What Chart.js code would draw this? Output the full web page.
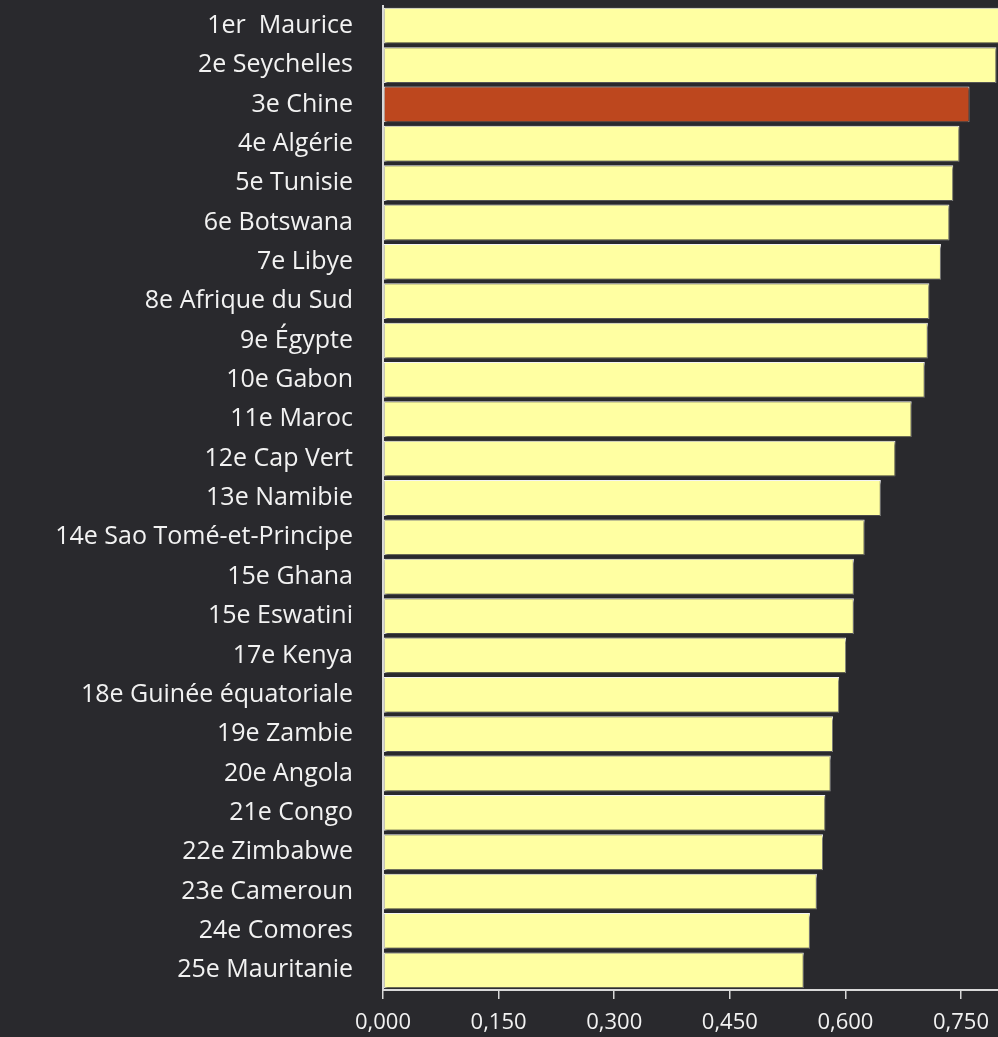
<!DOCTYPE html>
<html>
<head>
<meta charset="utf-8">
<script src="https://cdn.jsdelivr.net/npm/chart.js@4/dist/chart.umd.min.js"></script>
<style>
html,body{margin:0;padding:0;background:#29292d;}
#wrap{width:998px;height:1037px;position:relative;background:#29292d;overflow:hidden;}
</style>
</head>
<body>
<div id="wrap"><canvas id="c" width="998" height="1037"></canvas></div>
<script>
const categories = ["1er  Maurice","2e Seychelles","3e Chine","4e Algérie","5e Tunisie","6e Botswana","7e Libye","8e Afrique du Sud","9e Égypte","10e Gabon","11e Maroc","12e Cap Vert","13e Namibie","14e Sao Tomé-et-Principe","15e Ghana","15e Eswatini","17e Kenya","18e Guinée équatoriale","19e Zambie","20e Angola","21e Congo","22e Zimbabwe","23e Cameroun","24e Comores","25e Mauritanie"];
const values = [0.804,0.796,0.761,0.748,0.740,0.735,0.724,0.709,0.707,0.703,0.686,0.665,0.646,0.625,0.611,0.611,0.601,0.592,0.584,0.581,0.574,0.571,0.563,0.554,0.546];
const highlighted = ["3e Chine"];
const xTicks = [0, 0.15, 0.30, 0.45, 0.60, 0.75];

const barColors = categories.map(c => highlighted.includes(c) ? '#bd471e' : '#ffffa2');

const shadowPlugin = {
  id: 'barShadow',
  beforeDatasetDraw(chart) {
    const ctx = chart.ctx;
    ctx.save();
    ctx.shadowColor = 'rgba(0,0,0,0.75)';
    ctx.shadowBlur = 2;
    ctx.shadowOffsetX = 1;
    ctx.shadowOffsetY = 2;
  },
  afterDatasetDraw(chart) { chart.ctx.restore(); }
};

new Chart(document.getElementById('c'), {
  type: 'bar',
  data: {
    labels: categories,
    datasets: [{
      data: values,
      backgroundColor: barColors,
      borderColor: '#f4f4f4',
      borderWidth: 1,
      borderSkipped: false,
      barPercentage: 0.91,
      categoryPercentage: 1.0,
      clip: false
    }]
  },
  plugins: [shadowPlugin],
  options: {
    indexAxis: 'y',
    responsive: false,
    animation: false,
    events: [],
    layout: { padding: { top: 6, right: 0, bottom: 0, left: 0 } },
    plugins: { legend: { display: false }, tooltip: { enabled: false } },
    scales: {
      x: {
        min: 0,
        max: 0.798,
        afterBuildTicks(scale) { scale.ticks = xTicks.map(v => ({ value: v })); },
        afterFit(scale) { scale.height = 47; scale.paddingLeft = 0; scale.paddingRight = 0; },
        ticks: {
          color: '#f2f2f2',
          font: { family: 'Open Sans', size: 22 },
          padding: 11,
          callback: v => Number(v).toFixed(3).replace('.', ',')
        },
        grid: { drawOnChartArea: false, drawTicks: true, tickLength: 9, color: '#d9d9d9', lineWidth: 1.5 },
        border: { display: true, color: '#d9d9d9', width: 2 }
      },
      y: {
        afterFit(scale) { scale.width = 383; scale.paddingTop = 0; scale.paddingBottom = 0; },
        ticks: {
          color: '#f2f2f2',
          font: { family: 'Open Sans', size: 25 },
          padding: 30,
          autoSkip: false
        },
        grid: { drawOnChartArea: false, drawTicks: false },
        border: { display: true, color: '#d9d9d9', width: 2 }
      }
    }
  }
});
</script>
</body>
</html>
